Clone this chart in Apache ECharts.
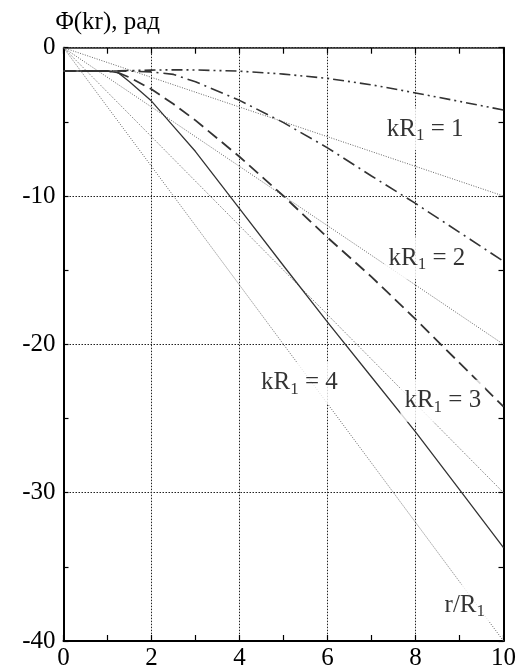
<!DOCTYPE html>
<html><head><meta charset="utf-8">
<script src="https://cdn.jsdelivr.net/npm/echarts@6/dist/echarts.min.js"></script>
<style>html,body{margin:0;padding:0;background:#fff}#c{width:519px;height:671px}</style>
</head><body><div id="c"></div>
<script>
// r/R1 sample points shared by the four phase curves
const rValues = [0, 1, 1.25, 1.5, 2, 2.5, 3, 4, 5, 6, 7, 8, 9, 10];
// Φ(kr) curves
const phiK1 = [-1.57, -1.57, -1.56, -1.54, -1.51, -1.49, -1.5, -1.58, -1.78, -2.07, -2.5, -3.05, -3.62, -4.2];
const phiK2 = [-1.57, -1.57, -1.57, -1.58, -1.63, -1.8, -2.3, -3.55, -5.05, -6.75, -8.65, -10.5, -12.45, -14.4];
const phiK3 = [-1.57, -1.57, -1.7, -2.0, -2.8, -3.8, -4.9, -7.35, -10.0, -12.8, -15.45, -18.3, -21.25, -24.2];
const phiK4 = [-1.57, -1.57, -1.7, -2.3, -3.6, -5.3, -7.0, -10.85, -14.7, -18.5, -22.2, -25.9, -29.8, -33.7];
// straight reference lines -kr
const lineK1 = [[0, 0], [10, -10]];
const lineK2 = [[0, 0], [10, -20]];
const lineK3 = [[0, 0], [10, -30]];
const lineK4 = [[0, 0], [10, -40]];
// tick labels
const xTickLabels = ['0', '2', '4', '6', '8', '10'];
const yTickLabels = ['0', '-10', '-20', '-30', '-40'];
// annotations
const noteTexts = ['kR{s|1} = 1', 'kR{s|1} = 2', 'kR{s|1} = 4', 'kR{s|1} = 3', 'r/R{s|1}'];
const noteCoords = [[8.22, -5.5], [8.26, -14.2], [5.36, -22.6], [8.62, -23.8], [9.12, -37.6]];

const F = "'Liberation Serif','Times New Roman',serif";
const FS = 25;
const zip = (xs, ys) => xs.map((x, i) => [x, ys[i]]);

const chart = echarts.init(document.getElementById('c'));
const dotted = (d) => ({type: 'line', data: d, symbol: 'none', silent: true, z: 3,
  lineStyle: {color: '#666', width: 1, type: [1, 1.5]}});
const curve = (d, type, w, c) => ({type: 'line', data: d, symbol: 'none', silent: true, z: 4,
  lineStyle: {color: c, width: w, type: type}});

chart.setOption({
  animation: false,
  backgroundColor: '#fff',
  grid: {left: 63.5, right: 12, top: 47.7, bottom: 30},
  xAxis: [{
    type: 'value', min: 0, max: 10, interval: 2,
    axisLine: {show: true, onZero: false, lineStyle: {color: '#000', width: 2}},
    axisTick: {show: true, inside: true, length: 6, lineStyle: {color: '#000', width: 1.2}},
    minorTick: {show: true, splitNumber: 2, length: 6, lineStyle: {color: '#000', width: 1.2}},
    axisLabel: {color: '#000', fontFamily: F, fontSize: FS, margin: 5,
      formatter: (v) => xTickLabels[Math.round(v / 2)]},
    splitLine: {show: true, lineStyle: {color: '#222', width: 1, type: [1.5, 1.5]}}
  }, {
    type: 'value', position: 'top', min: 0, max: 10, interval: 2,
    axisLine: {show: true, onZero: false, lineStyle: {color: '#222', width: 1.5}},
    axisTick: {show: true, inside: true, length: 6, lineStyle: {color: '#000', width: 1.2}},
    minorTick: {show: true, splitNumber: 2, length: 6, lineStyle: {color: '#000', width: 1.2}},
    axisLabel: {show: false}, splitLine: {show: false}
  }],
  yAxis: [{
    type: 'value', min: -40, max: 0, interval: 10,
    name: 'Φ(kr), рад', nameLocation: 'end', nameGap: 10,
    nameTextStyle: {color: '#000', fontFamily: F, fontSize: FS, align: 'left', verticalAlign: 'bottom', padding: [0, 0, 0, -8]},
    axisLine: {show: true, onZero: false, lineStyle: {color: '#000', width: 2}},
    axisTick: {show: true, inside: true, length: 5, lineStyle: {color: '#000', width: 1.2}},
    minorTick: {show: true, splitNumber: 2, length: 5, lineStyle: {color: '#000', width: 1.2}},
    axisLabel: {color: '#000', fontFamily: F, fontSize: FS, margin: 8,
      formatter: (v) => yTickLabels[Math.round(-v / 10)]},
    splitLine: {show: true, lineStyle: {color: '#222', width: 1, type: [1.5, 1.5]}}
  }, {
    type: 'value', position: 'right', min: -40, max: 0, interval: 10,
    axisLine: {show: true, onZero: false, lineStyle: {color: '#000', width: 2}},
    axisTick: {show: true, inside: true, length: 5, lineStyle: {color: '#000', width: 1.2}},
    minorTick: {show: true, splitNumber: 2, length: 5, lineStyle: {color: '#000', width: 1.2}},
    axisLabel: {show: false}, splitLine: {show: false}
  }],
  series: [
    dotted(lineK1), dotted(lineK2), dotted(lineK3), dotted(lineK4),
    curve(zip(rValues, phiK1), [11, 4, 2, 4, 2, 4], 1.6, '#333'),
    curve(zip(rValues, phiK2), [13, 5, 2, 5], 1.6, '#333'),
    curve(zip(rValues, phiK3), [12, 6], 1.8, '#333'),
    curve(zip(rValues, phiK4), 'solid', 1.3, '#333'),
    {
      type: 'scatter', z: 10, silent: true, symbolSize: 1,
      itemStyle: {color: 'rgba(0,0,0,0)'},
      data: noteCoords.map((c, i) => ({value: c, label: {formatter: noteTexts[i]}})),
      label: {show: true, position: 'inside', color: '#000', fontFamily: F, fontSize: FS,
        backgroundColor: '#fff', padding: [6, 4],
        rich: {s: {fontFamily: F, fontSize: 17, color: '#000', padding: [13, 0, 0, 0]}}}
    }
  ]
});
</script></body></html>
